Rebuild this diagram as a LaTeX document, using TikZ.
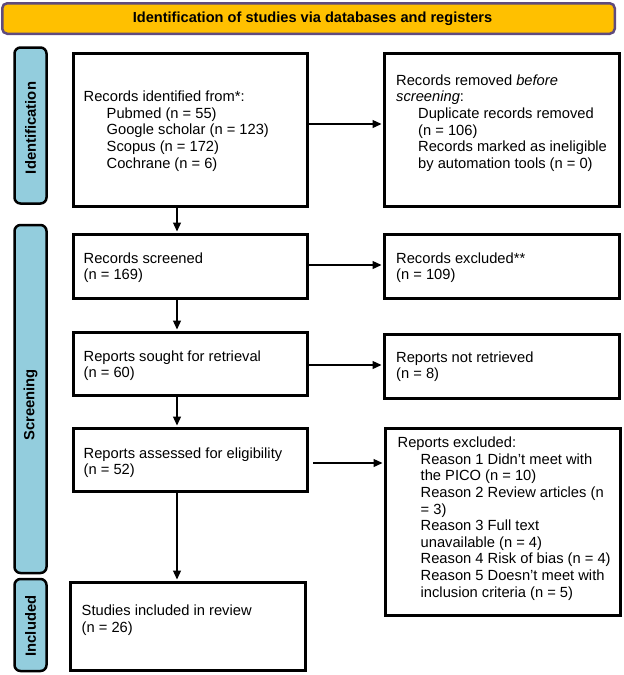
\documentclass[tikz,border=0pt]{standalone}
\usepackage{fontspec}
\setmainfont{Liberation Sans}
\usetikzlibrary{arrows.meta,calc}
\definecolor{banfill}{HTML}{FFC000}
\definecolor{banline}{HTML}{5F4B7E}
\definecolor{barfill}{HTML}{93CDDD}
\begin{document}
\begin{tikzpicture}[x=1pt,y=-1pt,
  box/.style={draw=black, line width=3pt, inner sep=0pt},
  txt/.style={anchor=west, align=left, inner sep=0pt, font=\fontsize{14.7}{16.6}\selectfont},
  bar/.style={draw=black, line width=2.5pt, fill=barfill, rounded corners=6pt, inner sep=0pt, minimum width=32pt},
  bartxt/.style={rotate=90, inner sep=0pt, font=\fontsize{14.8}{16.6}\selectfont\bfseries},
  banner/.style={draw=banline, line width=2.5pt, fill=banfill, rounded corners=5pt, inner sep=0pt},
  arr/.style={line width=1.3pt, -{Triangle[length=9pt,width=8pt]}}]
\useasboundingbox (0,0) rectangle (624,675);

% banner
\node[banner, minimum width=612.5pt, minimum height=30.5pt] (ban) at (308.5,18.5) {};
\node[inner sep=0pt, font=\fontsize{14.6}{16.6}\selectfont\bfseries] (bantxt) at (312.5,19) {Identification of studies via databases and registers};

% side bars
\node[bar, minimum height=156pt] (s1) at (30.5,125.5) {};
\node[bartxt] (l1) at (30.5,128) {Identification};
\node[bar, minimum height=348pt] (s2) at (30.5,399) {};
\node[bartxt] (l2) at (30.5,405) {Screening};
\node[bar, minimum height=92pt] (s3) at (30.5,625) {};
\node[bartxt] (l3) at (30.5,626) {Included};

% left column boxes
\node[box, minimum width=234pt, minimum height=153pt] (b1) at (190.5,130) {};
\node[txt] (t1) at ($(b1.west)+(11.5,1)$) {Records identified from*:\\
\hspace*{23pt}Pubmed (n = 55)\\
\hspace*{23pt}Google scholar (n = 123)\\
\hspace*{23pt}Scopus (n = 172)\\
\hspace*{23pt}Cochrane (n = 6)};

\node[box, minimum width=234pt, minimum height=64pt] (b2) at (190.5,266.5) {};
\node[txt] (t2) at ($(b2.west)+(11.5,1)$) {Records screened\\(n = 169)};

\node[box, minimum width=234pt, minimum height=63pt] (b3) at (190.5,364) {};
\node[txt] (t3) at ($(b3.west)+(11.5,1.5)$) {Reports sought for retrieval\\(n = 60)};

\node[box, minimum width=234pt, minimum height=63pt] (b4) at (190.5,460) {};
\node[txt] (t4) at ($(b4.west)+(11.5,2.5)$) {Reports assessed for eligibility\\(n = 52)};

\node[box, minimum width=235pt, minimum height=88pt] (b5) at (188,626.5) {};
\node[txt] (t5) at ($(b5.west)+(12.5,-6.5)$) {Studies included in review\\(n = 26)};

% right column boxes
\node[box, minimum width=235pt, minimum height=153pt] (r1) at (502,130) {};
\node[txt] (u1) at ($(r1.west)+(13,-7)$) {Records removed \textit{before}\\
\textit{screening}:\\
\hspace*{22pt}Duplicate records removed\\
\hspace*{22pt}(n = 106)\\
\hspace*{22pt}Records marked as ineligible\\
\hspace*{22pt}by automation tools (n = 0)};

\node[box, minimum width=235pt, minimum height=64pt] (r2) at (502,266.5) {};
\node[txt] (u2) at ($(r2.west)+(13,1)$) {Records excluded**\\(n = 109)};

\node[box, minimum width=235pt, minimum height=64pt] (r3) at (502,366.5) {};
\node[txt] (u3) at ($(r3.west)+(13,0)$) {Reports not retrieved\\(n = 8)};

\node[box, minimum width=235pt, minimum height=187pt] (r4) at (503,522) {};
\node[txt] (u4) at ($(r4.west)+(13.5,-3.5)$) {Reports excluded:\\
\hspace*{23pt}Reason 1 Didn't meet with\\
\hspace*{23pt}the PICO (n = 10)\\
\hspace*{23pt}Reason 2 Review articles (n\\
\hspace*{23pt}= 3)\\
\hspace*{23pt}Reason 3 Full text\\
\hspace*{23pt}unavailable (n = 4)\\
\hspace*{23pt}Reason 4 Risk of bias (n = 4)\\
\hspace*{23pt}Reason 5 Doesn't meet with\\
\hspace*{23pt}inclusion criteria (n = 5)};

% connectors
\coordinate (vx) at (177,0);
\coordinate (h1) at (0,124);
\coordinate (h2) at (0,265);
\coordinate (h3) at (0,365);
\coordinate (h4) at (0,463);
\draw[arr, shorten >=1.5pt] (b1.south -| vx) -- (b2.north -| vx);
\draw[arr, shorten >=1.5pt] (b2.south -| vx) -- (b3.north -| vx);
\draw[arr, shorten >=1.5pt] (b3.south -| vx) -- (b4.north -| vx);
\draw[arr, shorten >=1.5pt] (b4.south -| vx) -- (b5.north -| vx);
\draw[arr, shorten >=1.5pt] (b1.east |- h1) -- (r1.west |- h1);
\draw[arr, shorten >=1.5pt] (b2.east |- h2) -- (r2.west |- h2);
\draw[arr, shorten >=1.5pt] (b3.east |- h3) -- (r3.west |- h3);
\draw[arr, shorten >=1.5pt, shorten <=4pt] (b4.east |- h4) -- (r4.west |- h4);
\end{tikzpicture}
\end{document}
